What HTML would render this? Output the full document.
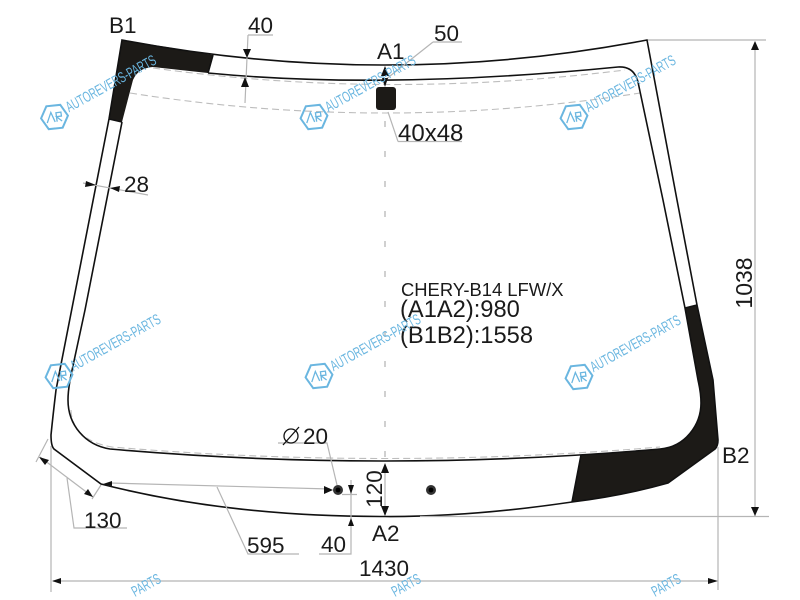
<!DOCTYPE html>
<html><head><meta charset="utf-8"><style>
html,body{margin:0;padding:0;background:#fff;width:800px;height:600px;overflow:hidden}
svg{display:block}
text{font-family:"Liberation Sans",sans-serif;fill:#1a1a1a;font-size:22.5px}
text.w{font-size:15px;fill:#6ab6e0;stroke:none}
.g{stroke:#b5b5b5;stroke-width:1.2;fill:none}
.d{stroke:#bdbdbd;stroke-width:1.1;fill:none;stroke-dasharray:7 4}
.k{stroke:#111;stroke-width:1.6;fill:none}
.a{fill:#111;stroke:none}
.b{fill:#1c1a17;stroke:none}
</style></head><body>
<svg width="800" height="600" viewBox="0 0 800 600" xmlns="http://www.w3.org/2000/svg">
<defs>
<g id="wm">
<path d="M-13.5,0 L-7,-11.5 L7,-11.5 L13.5,0 L7,11.5 L-7,11.5 Z" transform="rotate(-6)" fill="none" stroke="#6ab6e0" stroke-width="2"/>
<path d="M-8,5 L-3,-5 L0,5 M2,5 L2,-4 L7,-4 L7,0 L2,0 L7,5" fill="none" stroke="#6ab6e0" stroke-width="1.3" transform="rotate(-8)"/>
<text class="w" x="15" y="3" textLength="101" lengthAdjust="spacingAndGlyphs" transform="rotate(-29)">AUTOREVERS-PARTS</text>
</g>
</defs>
<rect width="800" height="600" fill="#fff"/>

<!-- dashed lines -->
<path class="d" d="M153,68 Q385,100 625,70"/>
<path class="d" d="M130,93 Q385,133 640,93"/>
<path class="d" d="M71,410 Q72,440 112,447 Q385,470 660,447"/>
<path class="d" d="M385,121 L385,460" style="stroke-dasharray:6 24;stroke:#aaa"/>

<!-- black areas -->
<path class="b" d="M122,40 Q168,47 213,55 L208,73 Q180,70 153,67 Q138,68 133,80 L122,122 L109,119 Z"/>
<path class="b" d="M685,308 L697,305 L713,380 L718,440 Q718,446 715,449 L668,483 Q622,496 572,502 L581,455 L660,449 C685,447 701,425 701,403 C701,392 699,385 698,380 Z"/>

<!-- outer -->
<path class="k" d="M122,40 Q385,90 647,40 L677,200 L697,305 L713,380 L718,440 Q718,446 715,449 L668,483 Q622,496 572,502 Q470,517 385,516.5 Q230,517 101,484 L54,449 Q51,446 51,435 Q53,415 56,390 L109,119 Z"/>
<!-- inner -->
<path class="k" d="M208,73 Q385,90 618,67 Q634,66 638,82 L663,200 L685,308 L698,380 C699,385 701,392 701,403 C701,425 685,447 660,449 Q385,473 110,449 C85,445 68,425 68,400 Q68,390 71,375 L85,310 L122,122"/>
<path class="k" d="M109,119 L122,122 M208,73 L213,55 M685,308 L697,305 M572,502 L581,455"/>

<!-- window -->
<rect x="376" y="87" width="20" height="23" rx="3" fill="#1c1a17"/>
<!-- holes -->
<circle cx="338" cy="490" r="5" fill="#333"/><circle cx="338" cy="490" r="2.4" fill="#000"/>
<circle cx="431" cy="490" r="5" fill="#333"/><circle cx="431" cy="490" r="2.4" fill="#000"/>

<!-- dimension lines -->
<path class="g" d="M648,40 L766,40 M755,42 L755,516 M420,516.5 L769,516.5 M718,447 L718,590 M51,446 L51,592 M53,581 L716,581"/>
<path class="g" d="M248,35 L273,35 M248,35 L245,103"/>
<path class="g" d="M433,42 L462,42 M433,42 L385,80"/>
<path class="g" d="M398,141.5 L462,141.5 M398,141.5 L388,112"/>
<path class="g" d="M83,183 L148,195"/>
<path class="g" d="M278,443 L327,443 L337,485"/>
<path class="g" d="M110,483 L330,489 M217,487 L248,554 L299,554"/>
<path class="g" d="M319,554 L351,554 L351,480 M342,494.5 L357,494.5"/>
<path class="g" d="M385,468 L385,515"/>
<path class="g" d="M48,439 L36,462 M101,485 L92,499 M40,457 L93,497 M67,478 L74,528 L127,528"/>

<!-- arrowheads -->
<path class="a" d="M755,41 L751,50 L759,50 Z"/>
<path class="a" d="M755,516 L751,507 L759,507 Z"/>
<path class="a" d="M52,581 L61,578 L61,584 Z"/>
<path class="a" d="M718,581 L708,578 L708,584 Z"/>
<path class="a" d="M247,58 L243,49 L251,49 Z"/>
<path class="a" d="M245,77 L241,87 L249,87 Z"/>
<path class="a" d="M385,66 L381,76 L389,76 Z"/>
<path class="a" d="M385,87 L382,78 L388,78 Z"/>
<path class="a" d="M96,185 L86,181 L85,187 Z"/>
<path class="a" d="M110,188 L120,186 L119,192 Z"/>
<path class="a" d="M385,463 L381,473 L389,473 Z"/>
<path class="a" d="M385,516 L381,506 L389,506 Z"/>
<path class="a" d="M333,490 L324,486 L324,494 Z"/>
<path class="a" d="M103,484 L112,481 L112,486 Z"/>
<path class="a" d="M351,494 L348,485 L354,485 Z"/>
<path class="a" d="M351,518 L348,526 L354,526 Z"/>
<path class="a" d="M39,457 L49,460 L45,465 Z"/>
<path class="a" d="M93,497 L84,494 L88,489 Z"/>

<!-- text -->
<text x="109" y="33">B1</text>
<text x="248" y="33">40</text>
<text x="377" y="59">A1</text>
<text x="434" y="41">50</text>
<text x="398" y="141" style="font-size:24px">40x48</text>
<text x="124" y="192">28</text>
<text transform="translate(752,283) rotate(-90)" text-anchor="middle" style="font-size:23px">1038</text>
<text x="401" y="296" style="font-size:18.4px">CHERY-B14 LFW/X</text>
<text x="400" y="317" style="font-size:23.7px">(A1A2):980</text>
<text x="400" y="343" style="font-size:23.7px">(B1B2):1558</text>
<text x="722" y="463">B2</text>
<circle cx="291" cy="436" r="7" fill="none" stroke="#111" stroke-width="1.3"/>
<path d="M283,445 L299,427" stroke="#111" stroke-width="1.3"/>
<text x="303" y="444">20</text>
<text transform="translate(382,489) rotate(-90)" text-anchor="middle">120</text>
<text x="372" y="541">A2</text>
<text x="321" y="552">40</text>
<text x="359" y="576">1430</text>
<text x="247" y="553">595</text>
<text x="84" y="528">130</text>

<!-- watermarks -->
<use href="#wm" x="54.5" y="117"/>
<use href="#wm" x="314" y="117"/>
<use href="#wm" x="574" y="117"/>
<use href="#wm" x="59" y="376"/>
<use href="#wm" x="319" y="376"/>
<use href="#wm" x="579" y="377"/>
<text class="w" textLength="31" lengthAdjust="spacingAndGlyphs" transform="translate(135,597) rotate(-29)">PARTS</text>
<text class="w" textLength="31" lengthAdjust="spacingAndGlyphs" transform="translate(395,597) rotate(-29)">PARTS</text>
<text class="w" textLength="31" lengthAdjust="spacingAndGlyphs" transform="translate(655,597) rotate(-29)">PARTS</text>
</svg>
</body></html>
